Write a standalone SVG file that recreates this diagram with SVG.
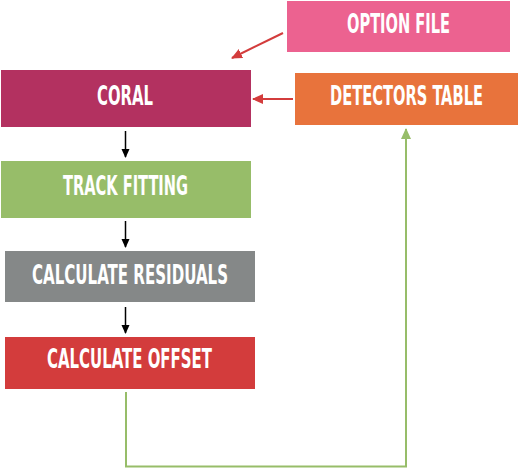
<svg xmlns="http://www.w3.org/2000/svg" width="519" height="469" viewBox="0 0 519 469">
<style>
.t{font-family:"DejaVu Sans Condensed","DejaVu Sans",sans-serif;font-stretch:condensed;font-weight:bold;font-size:21px;fill:#fff;}
</style>
<defs>
<marker id="ab" markerWidth="10" markerHeight="10" refX="8" refY="5" orient="auto" markerUnits="userSpaceOnUse"><path d="M0,1 L9,5 L0,9 z" fill="#000"/></marker>
<marker id="ar" markerWidth="12" markerHeight="12" refX="10" refY="6" orient="auto" markerUnits="userSpaceOnUse"><path d="M0,1 L11,6 L0,11 z" fill="#D33C3C"/></marker>
<marker id="ag" markerWidth="12" markerHeight="12" refX="10" refY="6" orient="auto" markerUnits="userSpaceOnUse"><path d="M0,1 L11,6 L0,11 z" fill="#97BD69"/></marker>
</defs>
<rect width="519" height="469" fill="#fff"/>
<g id="connectors" fill="none">
<line x1="283" y1="33" x2="232" y2="58" stroke="#D33C3C" stroke-width="2" marker-end="url(#ar)"/>
<line x1="293" y1="99" x2="253" y2="99" stroke="#D33C3C" stroke-width="2" marker-end="url(#ar)"/>
<line x1="125.5" y1="131" x2="125.5" y2="157" stroke="#000" stroke-width="1.5" marker-end="url(#ab)"/>
<line x1="125.5" y1="221" x2="125.5" y2="247" stroke="#000" stroke-width="1.5" marker-end="url(#ab)"/>
<line x1="125.5" y1="307" x2="125.5" y2="333" stroke="#000" stroke-width="1.5" marker-end="url(#ab)"/>
<polyline points="126,392 126,466.5 406,466.5 406,129" stroke="#97BD69" stroke-width="2" marker-end="url(#ag)"/>
</g>
<g id="option-file"><rect x="287" y="1" width="223" height="51" fill="#EC6290"/><text class="t" transform="translate(398.5,33) scale(1,1.25)" text-anchor="middle" textLength="103" lengthAdjust="spacingAndGlyphs">OPTION FILE</text></g>
<g id="coral"><rect x="1" y="70" width="250" height="57" fill="#B33160"/><text class="t" transform="translate(125,105) scale(1,1.25)" text-anchor="middle" textLength="56" lengthAdjust="spacingAndGlyphs">CORAL</text></g>
<g id="detectors-table"><rect x="295" y="73" width="223" height="52" fill="#E8733C"/><text class="t" transform="translate(406.5,105) scale(1,1.25)" text-anchor="middle" textLength="153" lengthAdjust="spacingAndGlyphs">DETECTORS TABLE</text></g>
<g id="track-fitting"><rect x="1" y="161" width="250" height="57" fill="#97BD69"/><text class="t" transform="translate(125.5,195) scale(1,1.25)" text-anchor="middle" textLength="125" lengthAdjust="spacingAndGlyphs">TRACK FITTING</text></g>
<g id="calculate-residuals"><rect x="5" y="251" width="250" height="51" fill="#858888"/><text class="t" transform="translate(130,284) scale(1,1.25)" text-anchor="middle" textLength="196" lengthAdjust="spacingAndGlyphs">CALCULATE RESIDUALS</text></g>
<g id="calculate-offset"><rect x="5" y="337" width="250" height="52" fill="#D33C3C"/><text class="t" transform="translate(129.5,368) scale(1,1.25)" text-anchor="middle" textLength="165" lengthAdjust="spacingAndGlyphs">CALCULATE OFFSET</text></g>
</svg>
